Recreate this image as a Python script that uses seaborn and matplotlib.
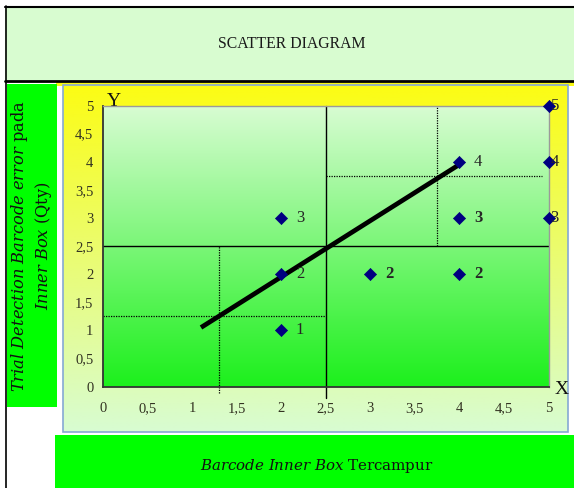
import numpy as np
import matplotlib
matplotlib.use("Agg")
import matplotlib.pyplot as plt
import pandas as pd
import seaborn as sns
from matplotlib.patches import Rectangle

# Mixed inner-box barcodes vs. detected barcode errors (quantities)
mixed_qty = [2, 2, 2, 3, 4, 4, 4, 5, 5, 5]
error_qty = [3, 2, 1, 2, 2, 3, 4, 5, 4, 3]
bold_label = [False, False, False, True, True, True, False, False, False, False]

# Trend line end points
trend_x = [1.1, 4.0]
trend_y = [1.05, 3.95]

tick_values = [0, 0.5, 1, 1.5, 2, 2.5, 3, 3.5, 4, 4.5, 5]
tick_labels = ["0", "0,5", "1", "1,5", "2", "2,5", "3", "3,5", "4", "4,5", "5"]

# Quadrant guides
mid_x, mid_y = 2.5, 2.5
low_guide_x, low_guide_y = 1.3, 1.25
high_guide_x, high_guide_y = 3.75, 3.75

title = "SCATTER DIAGRAM"
x_title_rm = "Tercampur"

sns.set_style("white")
plt.rcParams["font.family"] = ["Liberation Serif", "DejaVu Serif"]
plt.rcParams["mathtext.fontset"] = "custom"
plt.rcParams["mathtext.rm"] = "DejaVu Serif"
plt.rcParams["mathtext.it"] = "DejaVu Serif:italic"

W, H = 574, 488
fig = plt.figure(figsize=(W / 100, H / 100), dpi=100)
fig.patch.set_facecolor("white")


def vgrad(top, bottom, n=256):
    t = np.linspace(0, 1, n)[:, None, None]
    top = np.array(top, dtype=float)[None, None, :] / 255
    bottom = np.array(bottom, dtype=float)[None, None, :] / 255
    return top * (1 - t) + bottom * t


# ---- page-level decoration in pixel coordinates ----
bg = fig.add_axes([0, 0, 1, 1])
bg.axis("off")

# header band
bg.add_patch(Rectangle((5, 7), 572, 73, facecolor="#d8fcd0", edgecolor="none"))
bg.plot([5, 574], [6.5, 6.5], color="black", lw=1.5)
bg.plot([5, 574], [80.5, 80.5], color="black", lw=2.0)
bg.plot([5.5, 5.5], [6, 488], color="black", lw=1.2)
bg.text(292, 44, title, ha="center", va="center", fontsize=11.3, color="#1a1a1a")

# thin yellow strip under header
bg.add_patch(Rectangle((56, 82), 518, 4, facecolor="#f8f812", edgecolor="none"))

# left green y-title box
bg.add_patch(Rectangle((7, 84), 50, 323, facecolor="#00ff00", edgecolor="none"))
side_font = dict(family="DejaVu Serif", fontsize=10.8, color="#111111")
left_font = dict(side_font, fontsize=11.7)
bg.text(20, 246, r"$\mathit{Trial\ Detection\ Barcode\ error}$ pada",
        rotation=90, ha="center", va="center", **left_font)
bg.text(43, 246, r"$\mathit{Inner\ Box}$ (Qty)",
        rotation=90, ha="center", va="center", **left_font)

# chart frame with yellow-to-mint gradient
bg.imshow(vgrad((252, 252, 20), (216, 252, 210)), extent=(63, 568, 432, 85),
          origin="upper", aspect="auto", interpolation="bilinear")
bg.add_patch(Rectangle((63, 85), 505, 347, facecolor="none",
                       edgecolor="#86a8d4", lw=1.2))

# bottom green x-title box
bg.add_patch(Rectangle((55, 435), 519, 53, facecolor="#00ff00", edgecolor="none"))
bg.text(317, 466, r"$\mathit{Barcode\ Inner\ Box}$ " + x_title_rm,
        ha="center", va="center", **side_font)

# axis letters
bg.text(114, 101, "Y", ha="center", va="center", fontsize=14, color="#111111")
bg.text(562, 390, "X", ha="center", va="center", fontsize=14, color="#111111")

bg.set_xlim(0, W)
bg.set_ylim(H, 0)

# ---- plot area ----
x0, x1, ytop, ybot = 103, 548.5, 105.5, 386.5
ax = fig.add_axes([x0 / W, 1 - ybot / H, (x1 - x0) / W, (ybot - ytop) / H])
ax.patch.set_visible(False)
ax.imshow(vgrad((216, 252, 210), (28, 240, 28)), extent=(0, 5, 0, 5),
          origin="upper", aspect="auto", interpolation="bilinear", zorder=0)

# quadrant guides
ax.plot([0, 5], [mid_y, mid_y], color="black", lw=1.0, zorder=2)
ax.plot([mid_x, mid_x], [-0.2, 5], color="black", lw=1.0, zorder=2, clip_on=False)
dot = dict(color="black", lw=0.9, ls=(0, (1, 1)), zorder=2, clip_on=False)
ax.plot([low_guide_x, low_guide_x], [-0.12, mid_y], **dot)
ax.plot([0, mid_x], [low_guide_y, low_guide_y], **dot)
ax.plot([high_guide_x, high_guide_x], [mid_y, 5], **dot)
ax.plot([mid_x, 4.93], [high_guide_y, high_guide_y], **dot)

# trend line
sns.lineplot(x=trend_x, y=trend_y, color="black", lw=3.4, ax=ax, zorder=3,
             solid_capstyle="butt")

# observations
df = pd.DataFrame({"mixed": mixed_qty, "error": error_qty})
sns.scatterplot(data=df, x="mixed", y="error", marker="D", s=38,
                color="#000080", edgecolor="#000080", linewidth=0.5,
                ax=ax, zorder=5, clip_on=False)

for xv, yv, b in zip(mixed_qty, error_qty, bold_label):
    off = 1.5 if xv == 5 else 10.5
    ax.annotate(f"{yv}", (xv, yv), xytext=(off, 0), textcoords="offset points",
                ha="left", va="center", fontsize=12,
                fontweight="bold" if b else "normal", color="#262626",
                annotation_clip=False, zorder=6)

ax.set_xlim(0, 5)
ax.set_ylim(0, 5)
ax.set_xticks(tick_values)
ax.set_xticklabels(tick_labels)
ax.set_yticks(tick_values)
ax.set_yticklabels(tick_labels)
ax.set_xlabel("")
ax.set_ylabel("")
ax.tick_params(axis="both", direction="out", length=4, width=1, color="#333333",
               labelsize=10.5, labelcolor="#333322")
ax.tick_params(axis="x", pad=7)
ax.tick_params(axis="y", pad=3)
for side in ("left", "bottom"):
    ax.spines[side].set_color("#333333")
    ax.spines[side].set_linewidth(1.3)
for side in ("top", "right"):
    ax.spines[side].set_color("#9a9a9a")
    ax.spines[side].set_linewidth(1.0)

fig.savefig("out.png", dpi=100)
